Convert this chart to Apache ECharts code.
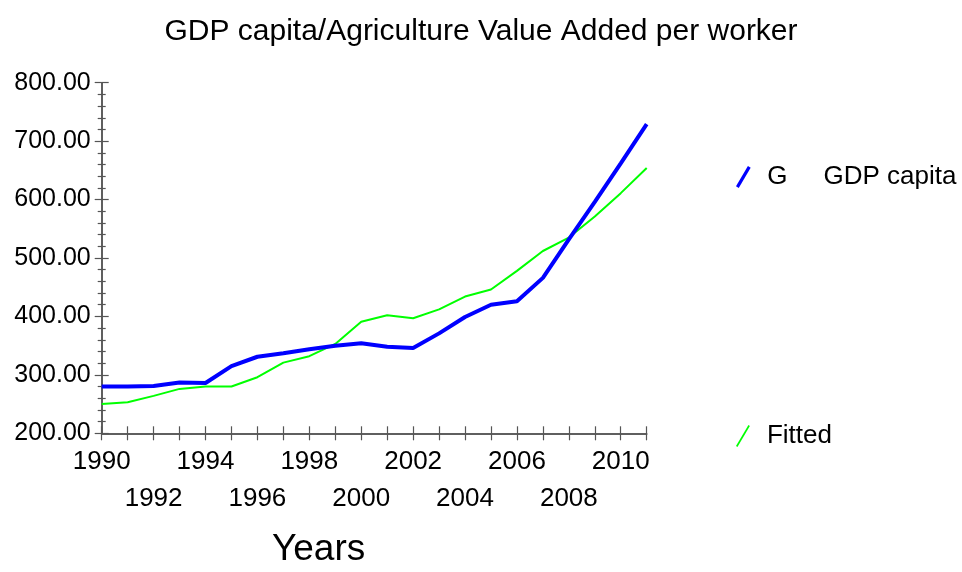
<!DOCTYPE html>
<html>
<head>
<meta charset="utf-8">
<script src="https://cdn.jsdelivr.net/npm/echarts@6/dist/echarts.min.js"></script>
<style>html,body{margin:0;padding:0;background:#fff;}#c{width:962px;height:572px;}</style>
</head>
<body>
<div id="c"></div>
<script>
const years = ['1990','1991','1992','1993','1994','1995','1996','1997','1998','1999','2000','2001','2002','2003','2004','2005','2006','2007','2008','2009','2010','2011'];
const gdpCapita = [280,280,281,287,286,315,331,337,344,350,354,348,346,371,399,420,426,466,532,596,662,729];
const fitted = [250,253,264,276,280,280,296,321,332,353,391,402,397,412,434,446,478,512,535,571,611,654];
const titleText = 'GDP capita/Agriculture Value Added per worker';
const xName = 'Years';

const FONT = '"Liberation Sans", Arial, sans-serif';
const chart = echarts.init(document.getElementById('c'));
const grid = {left: 101.7, right: 315.3, top: 82.7, bottom: 138.7};
const yBase = {type: 'value', min: 200, max: 800, interval: 100, position: 'left',
  splitLine: {show: false}, minorSplitLine: {show: false},
  axisLine: {show: true, lineStyle: {color: '#555', width: 1.5}}};
const xBase = {type: 'category', data: years, boundaryGap: false, position: 'bottom',
  splitLine: {show: false}, axisLine: {show: true, lineStyle: {color: '#555', width: 1.5}}};
chart.setOption({
  animation: false,
  backgroundColor: '#fff',
  grid: grid,
  graphic: [
    {type: 'text', left: 'center', top: 17, style: {text: titleText, font: '30px ' + FONT, fill: '#000'}},
    {type: 'text', left: 272, top: 531, style: {text: xName, font: '37px ' + FONT, fill: '#000'}}
  ],
  legend: [
    {left: 731, top: 159, itemWidth: 16, itemHeight: 22, selectedMode: false,
     data: [{name: 'GDP capita', icon: 'path://M0,22 L13,0 L16,2 L3,24 Z'}],
     formatter: n => '{a|G}{b|' + n + '}',
     textStyle: {fontFamily: FONT, fontSize: 26, color: '#000',
       rich: {a: {fontFamily: FONT, fontSize: 26, padding: [0,0,0,11]}, b: {fontFamily: FONT, fontSize: 26, padding: [0,0,0,36]}}}},
    {left: 731, top: 418, itemWidth: 16, itemHeight: 22, selectedMode: false,
     data: [{name: 'Fitted', icon: 'path://M0,22 L13,0 L14.5,1 L1.5,23 Z'}],
     formatter: n => '{a|' + n + '}',
     textStyle: {fontFamily: FONT, fontSize: 26, color: '#000',
       rich: {a: {fontFamily: FONT, fontSize: 26, padding: [0,0,0,11]}}}}
  ],
  xAxis: [
    Object.assign({}, xBase, {
      axisTick: {show: true, inside: false, length: 7, interval: 0, lineStyle: {color: '#555', width: 1.2}},
      axisLabel: {show: true, interval: 0, margin: 10, fontFamily: FONT, fontSize: 26, color: '#000', lineHeight: 37,
        formatter: (v, i) => { const d = i % 4; return d === 0 ? v : (d === 2 ? '\n' + v : ''); }}
    }),
    Object.assign({}, xBase, {
      axisTick: {show: true, inside: true, length: 7, interval: 0, lineStyle: {color: '#555', width: 1.2}},
      axisLabel: {show: false}
    })
  ],
  yAxis: [
    Object.assign({}, yBase, {
      axisTick: {show: true, inside: false, length: 7, lineStyle: {color: '#555', width: 1.2}},
      minorTick: {show: true, splitNumber: 5, length: 4, lineStyle: {color: '#555', width: 1.2}},
      axisLabel: {show: true, margin: 11, fontFamily: FONT, fontSize: 25, color: '#000', formatter: v => v.toFixed(2)}
    }),
    Object.assign({}, yBase, {
      axisTick: {show: true, inside: true, length: 7, lineStyle: {color: '#555', width: 1.2}},
      minorTick: {show: true, splitNumber: 5, length: 4, lineStyle: {color: '#555', width: 1.2}},
      axisLabel: {show: false}
    })
  ],
  series: [
    {name: 'GDP capita', type: 'line', data: gdpCapita, xAxisIndex: 0, yAxisIndex: 0, showSymbol: false,
     color: '#0000ff', lineStyle: {color: '#0000ff', width: 4}, z: 3},
    {name: 'Fitted', type: 'line', data: fitted, xAxisIndex: 0, yAxisIndex: 0, showSymbol: false,
     color: '#00ff00', lineStyle: {color: '#00ff00', width: 2}, z: 2}
  ]
});
</script>
</body>
</html>
